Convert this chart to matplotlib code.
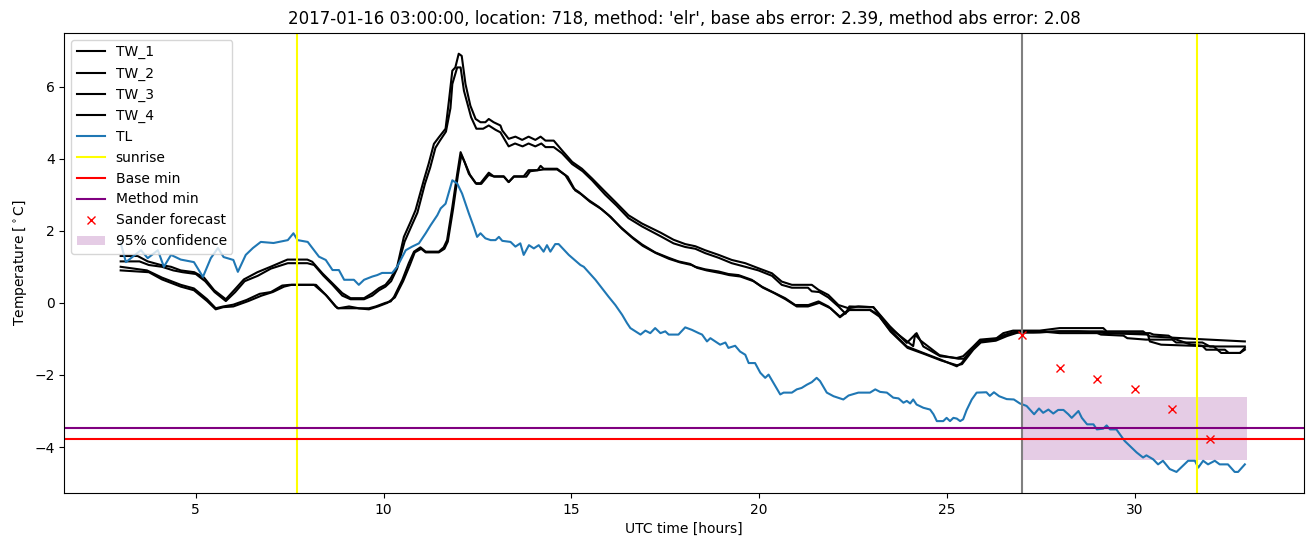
import matplotlib.pyplot as plt

# ── Daten ─────────────────────────────────────────────────────
tw1_t = [3.0, 3.45, 3.72, 4.07, 4.34, 4.6, 4.96, 5.22, 5.49, 5.8, 6.02, 6.28, 6.64, 6.99, 7.44,
         7.97, 8.1, 8.37, 8.64, 8.9, 9.12, 9.48, 9.7, 9.88, 10.05, 10.19, 10.36, 10.54, 10.72,
         10.85, 11.07, 11.2, 11.34, 11.47, 11.65, 11.74, 11.83, 11.91, 12.0, 12.08, 12.18, 12.31,
         12.45, 12.58, 12.71, 12.8, 12.93, 13.11, 13.16, 13.33, 13.51, 13.69, 13.86, 14.04, 14.18,
         14.31, 14.53, 14.75, 15.02, 15.28, 15.55, 15.9, 16.17, 16.52, 16.88, 17.37, 17.72, 18.03,
         18.3, 18.56, 18.92, 19.27, 19.63, 19.98, 20.34, 20.6, 20.87, 21.4, 21.58, 21.84, 22.11,
         22.38, 22.64, 23.04, 23.48, 23.93, 24.19, 24.37, 24.82, 25.26, 25.43, 25.7, 25.88, 26.32,
         26.5, 26.76, 27.47, 28.0, 29.16, 29.25, 30.22, 30.4, 31.6, 32.93]
tw1_v = [1.3, 1.3, 1.15, 1.05, 1.0, 0.9, 0.85, 0.7, 0.35, 0.1, 0.35, 0.65, 0.85, 1.0, 1.2,
         1.2, 1.14, 0.82, 0.54, 0.27, 0.13, 0.13, 0.27, 0.41, 0.5, 0.68, 1.0, 1.83, 2.25,
         2.57, 3.4, 3.86, 4.41, 4.59, 4.83, 5.61, 6.44, 6.53, 6.91, 6.85, 6.07, 5.47,
         5.1, 5.01, 5.01, 5.1, 5.01, 4.92, 4.78, 4.55, 4.61, 4.52, 4.61, 4.52, 4.61,
         4.5, 4.5, 4.23, 3.91, 3.72, 3.45, 3.08, 2.8, 2.43, 2.2, 1.95, 1.75, 1.63,
         1.57, 1.46, 1.33, 1.19, 1.1, 0.96, 0.82, 0.59, 0.5, 0.5, 0.36, 0.22, -0.06,
         -0.15, -0.1, -0.12, -0.65, -1.11, -0.84, -1.21, -1.48, -1.53, -1.48, -1.21, -1.02, -0.98,
         -0.84, -0.77, -0.77, -0.7, -0.7, -0.79, -0.79, -0.93, -1.0, -1.07]

tw2_t = [3.0, 3.5, 3.75, 4.1, 4.4, 4.65, 5.0, 5.25, 5.5, 5.8, 6.05, 6.3, 6.65, 7.0, 7.45,
         7.97, 8.15, 8.4, 8.64, 8.9, 9.12, 9.48, 9.7, 9.88, 10.05, 10.2, 10.36, 10.56, 10.75,
         10.9, 11.1, 11.24, 11.38, 11.5, 11.66, 11.78, 11.83, 11.96, 12.05, 12.14, 12.33, 12.47,
         12.65, 12.8, 12.98, 13.11, 13.33, 13.5, 13.7, 13.86, 14.04, 14.2, 14.31, 14.53, 14.75,
         15.02, 15.3, 15.55, 15.9, 16.2, 16.52, 16.88, 17.37, 17.72, 18.03, 18.3, 18.56, 18.92,
         19.27, 19.63, 19.98, 20.34, 20.6, 20.87, 21.3, 21.4, 21.6, 21.84, 22.11, 22.3, 22.4,
         23.04, 23.48, 24.1, 24.15, 24.3, 24.8, 25.3, 25.45, 25.7, 25.9, 26.3, 26.5, 26.76,
         27.3, 28.0, 29.16, 29.3, 30.4, 30.5, 30.9, 31.0, 31.5, 31.8, 31.9, 32.4, 32.5,
         32.8, 32.93]
tw2_v = [1.15, 1.15, 1.05, 1.0, 0.9, 0.85, 0.8, 0.6, 0.3, 0.05, 0.3, 0.6, 0.75, 0.95, 1.1,
         1.1, 1.05, 0.75, 0.5, 0.2, 0.1, 0.1, 0.2, 0.35, 0.45, 0.6, 0.95, 1.7, 2.15,
         2.5, 3.3, 3.75, 4.3, 4.5, 4.75, 5.4, 6.07, 6.53, 6.53, 5.88, 5.15, 4.83,
         4.83, 4.92, 4.8, 4.73, 4.34, 4.42, 4.34, 4.42, 4.34, 4.42, 4.32, 4.32, 4.15,
         3.85, 3.65, 3.4, 3.0, 2.7, 2.35, 2.12, 1.85, 1.65, 1.55, 1.5, 1.38, 1.25,
         1.1, 1.0, 0.9, 0.75, 0.5, 0.42, 0.42, 0.32, 0.3, 0.15, -0.1, -0.3, -0.1,
         -0.12, -0.7, -1.2, -0.88, -1.05, -1.45, -1.55, -1.55, -1.25, -1.05, -1.0, -0.9, -0.82,
         -0.82, -0.79, -0.79, -0.84, -0.84, -0.88, -0.91, -0.98, -1.16, -1.19, -1.3, -1.3, -1.39,
         -1.39, -1.25]

tw3_t = [3.0, 3.7, 4.1, 4.6, 4.95, 5.3, 5.53, 5.73, 6.0, 6.35, 6.7, 7.0, 7.3, 7.5, 8.15,
         8.46, 8.72, 8.8, 9.08, 9.34, 9.61, 9.79, 10.05, 10.19, 10.28, 10.5, 10.67, 10.81, 10.98,
         11.12, 11.47, 11.6, 11.69, 11.83, 11.96, 12.05, 12.14, 12.27, 12.45, 12.58, 12.8, 12.93,
         13.2, 13.33, 13.47, 13.73, 13.86, 14.1, 14.18, 14.26, 14.62, 14.84, 15.06, 15.19, 15.46,
         15.73, 15.99, 16.3, 16.61, 16.88, 17.23, 17.59, 17.85, 18.16, 18.3, 18.56, 18.92, 19.18,
         19.45, 19.8, 20.07, 20.34, 20.69, 20.96, 21.31, 21.58, 21.84, 22.15, 22.38, 22.95, 23.17,
         23.48, 23.93, 24.37, 24.82, 25.26, 25.39, 25.7, 25.88, 26.32, 26.59, 26.85, 27.47, 28.0,
         29.0, 29.1, 29.7, 29.8, 30.3, 31.0, 31.1, 31.8, 32.0, 32.93]
tw3_v = [1.0, 0.9, 0.7, 0.5, 0.4, 0.1, -0.15, -0.1, -0.05, 0.08, 0.25, 0.3, 0.48, 0.5, 0.5,
         0.22, -0.1, -0.15, -0.1, -0.15, -0.15, -0.1, 0.0, 0.04, 0.17, 0.64, 1.1, 1.42, 1.54,
         1.42, 1.42, 1.54, 1.74, 2.66, 3.58, 4.18, 3.95, 3.58, 3.32, 3.32, 3.61, 3.51,
         3.51, 3.35, 3.51, 3.51, 3.68, 3.68, 3.8, 3.72, 3.72, 3.54, 3.17, 3.08, 2.85,
         2.66, 2.43, 2.11, 1.83, 1.62, 1.4, 1.25, 1.15, 1.08, 1.0, 0.93, 0.87, 0.8,
         0.77, 0.64, 0.45, 0.31, 0.13, -0.06, -0.06, 0.04, -0.1, -0.38, -0.19, -0.19, -0.33,
         -0.75, -1.21, -1.39, -1.57, -1.76, -1.67, -1.25, -1.07, -1.02, -0.88, -0.79, -0.79, -0.84,
         -0.84, -0.88, -0.91, -0.98, -1.02, -1.02, -1.1, -1.1, -1.21, -1.21]

tw4_t = [3.0, 3.75, 4.1, 4.6, 4.95, 5.3, 5.53, 5.73, 6.0, 6.4, 6.75, 7.05, 7.35, 7.55, 8.2,
         8.5, 8.77, 9.3, 9.61, 9.85, 10.1, 10.3, 10.52, 10.7, 10.83, 11.0, 11.12, 11.47, 11.62,
         11.71, 11.85, 11.98, 12.07, 12.16, 12.3, 12.47, 12.6, 12.8, 12.95, 13.2, 13.33, 13.47,
         13.8, 13.9, 14.26, 14.62, 14.9, 15.1, 15.25, 15.5, 15.8, 16.05, 16.35, 16.65, 16.9,
         17.25, 17.6, 17.9, 18.2, 18.35, 18.6, 19.0, 19.2, 19.5, 19.85, 20.1, 20.4, 20.7,
         21.0, 21.3, 21.6, 21.9, 22.15, 22.4, 22.95, 23.2, 23.5, 23.95, 24.4, 24.85, 25.26,
         25.4, 25.7, 25.9, 26.3, 26.6, 26.9, 27.47, 28.0, 28.5, 29.25, 30.35, 30.4, 30.7,
         32.1, 32.3, 32.8, 32.93]
tw4_v = [0.9, 0.85, 0.65, 0.45, 0.35, 0.05, -0.18, -0.12, -0.1, 0.05, 0.2, 0.3, 0.45, 0.5, 0.5,
         0.18, -0.15, -0.15, -0.18, -0.1, 0.0, 0.15, 0.6, 1.05, 1.4, 1.5, 1.4, 1.4, 1.5,
         1.7, 2.6, 3.55, 4.1, 3.9, 3.55, 3.3, 3.3, 3.55, 3.5, 3.5, 3.35, 3.5,
         3.5, 3.65, 3.7, 3.7, 3.5, 3.12, 3.02, 2.8, 2.6, 2.38, 2.05, 1.78, 1.58,
         1.38, 1.22, 1.12, 1.05, 0.97, 0.9, 0.82, 0.77, 0.73, 0.6, 0.42, 0.27, 0.1,
         -0.1, -0.1, 0.0, -0.15, -0.4, -0.2, -0.2, -0.38, -0.8, -1.25, -1.42, -1.6, -1.73,
         -1.7, -1.3, -1.1, -1.05, -0.92, -0.82, -0.82, -0.79, -0.79, -0.84, -0.88, -1.07, -1.16,
         -1.21, -1.39, -1.39, -1.3]

tl_t = [3.0, 3.14, 3.54, 3.72, 3.99, 4.15, 4.34, 4.6, 4.95, 5.19, 5.4, 5.59, 5.74, 6.0, 6.12,
        6.33, 6.52, 6.73, 7.07, 7.45, 7.6, 7.71, 7.98, 8.28, 8.46, 8.64, 8.81, 8.95, 9.21,
        9.34, 9.48, 9.7, 9.83, 9.96, 10.23, 10.36, 10.59, 10.76, 10.94, 11.12, 11.25, 11.43,
        11.52, 11.65, 11.83, 11.96, 12.09, 12.27, 12.4, 12.49, 12.58, 12.71, 12.85, 12.98, 13.07,
        13.16, 13.38, 13.51, 13.64, 13.73, 13.87, 14.0, 14.13, 14.26, 14.35, 14.44, 14.57, 14.66,
        14.93, 15.24, 15.33, 15.64, 15.99, 16.17, 16.35, 16.48, 16.57, 16.84, 16.97, 17.1, 17.23,
        17.37, 17.5, 17.59, 17.85, 18.03, 18.21, 18.39, 18.48, 18.61, 18.7, 18.83, 18.96, 19.1,
        19.18, 19.36, 19.49, 19.63, 19.72, 19.89, 20.03, 20.16, 20.25, 20.38, 20.56, 20.65, 20.87,
        21.0, 21.13, 21.27, 21.4, 21.53, 21.62, 21.8, 21.98, 22.24, 22.38, 22.64, 22.95, 23.09,
        23.22, 23.4, 23.57, 23.71, 23.84, 23.93, 24.02, 24.1, 24.19, 24.37, 24.55, 24.64, 24.73,
        24.9, 24.99, 25.08, 25.17, 25.26, 25.35, 25.43, 25.52, 25.66, 25.79, 26.05, 26.14, 26.25,
        26.39, 26.59, 26.78, 26.94, 27.12, 27.32, 27.45, 27.56, 27.7, 27.83, 27.96, 28.1, 28.23,
        28.32, 28.5, 28.59, 28.73, 28.9, 28.99, 29.16, 29.25, 29.34, 29.51, 29.73, 30.05, 30.22,
        30.31, 30.49, 30.62, 30.75, 30.93, 31.11, 31.28, 31.42, 31.6, 31.69, 31.82, 31.95, 32.13,
        32.26, 32.48, 32.66, 32.75, 32.93]
tl_v = [1.66, 1.13, 1.46, 1.24, 1.46, 1.0, 1.33, 1.2, 1.13, 0.72, 1.24, 1.52, 1.27, 1.19, 0.86,
        1.33, 1.52, 1.69, 1.66, 1.74, 1.93, 1.74, 1.69, 1.28, 1.19, 0.91, 0.91, 0.64, 0.64,
        0.5, 0.64, 0.73, 0.77, 0.83, 0.83, 1.0, 1.46, 1.56, 1.65, 1.93, 2.15, 2.43,
        2.62, 2.75, 3.4, 3.31, 3.03, 2.48, 2.11, 1.83, 1.93, 1.79, 1.74, 1.74, 1.83,
        1.72, 1.69, 1.56, 1.65, 1.33, 1.6, 1.51, 1.6, 1.42, 1.6, 1.42, 1.63, 1.63,
        1.33, 1.05, 1.0, 0.64, 0.17, -0.06, -0.33, -0.56, -0.7, -0.88, -0.77, -0.84, -0.7,
        -0.84, -0.79, -0.88, -0.88, -0.68, -0.75, -0.84, -0.88, -1.07, -0.98, -1.07, -1.16, -1.1,
        -1.25, -1.19, -1.35, -1.44, -1.67, -1.67, -1.94, -2.08, -1.99, -2.22, -2.54, -2.49, -2.49,
        -2.4, -2.36, -2.27, -2.2, -2.08, -2.17, -2.49, -2.59, -2.68, -2.57, -2.49, -2.49, -2.4,
        -2.47, -2.49, -2.63, -2.65, -2.77, -2.72, -2.79, -2.68, -2.82, -2.91, -2.96, -3.09, -3.28,
        -3.28, -3.19, -3.28, -3.19, -3.21, -3.28, -3.23, -2.98, -2.68, -2.49, -2.48, -2.58, -2.48,
        -2.59, -2.67, -2.68, -2.79, -2.86, -3.09, -2.93, -3.05, -2.96, -3.07, -2.97, -2.97, -3.09,
        -3.19, -3.0, -3.19, -3.37, -3.37, -3.51, -3.49, -3.4, -3.51, -3.51, -3.83, -4.15, -4.29,
        -4.23, -4.34, -4.48, -4.38, -4.61, -4.69, -4.52, -4.38, -4.38, -4.57, -4.38, -4.48, -4.38,
        -4.48, -4.48, -4.69, -4.69, -4.48]

sunrise = [7.7, 31.65]
forecast_start = 27.0
base_min = -3.78
method_min = -3.47
sander_t = [27, 28, 29, 30, 31, 32]
sander_v = [-0.88, -1.80, -2.11, -2.40, -2.94, -3.79]
conf_t = [27, 33]
conf_lo = -4.36
conf_hi = -2.60

title = ("2017-01-16 03:00:00, location: 718, method: 'elr', "
         "base abs error: 2.39, method abs error: 2.08")

# ── Plot ──────────────────────────────────────────────────────
fig, ax = plt.subplots(figsize=(13.13, 5.47), dpi=100)
fig.subplots_adjust(left=0.049, right=0.993, top=0.94, bottom=0.099)

ax.plot(tw1_t, tw1_v, color='black', label='TW_1')
ax.plot(tw2_t, tw2_v, color='black', label='TW_2')
ax.plot(tw3_t, tw3_v, color='black', label='TW_3')
ax.plot(tw4_t, tw4_v, color='black', label='TW_4')
ax.plot(tl_t, tl_v, color='C0', label='TL')

ax.axvline(sunrise[0], color='yellow', label='sunrise')
ax.axvline(sunrise[1], color='yellow')
ax.axvline(forecast_start, color='gray')
ax.axhline(base_min, color='red', label='Base min')
ax.axhline(method_min, color='purple', label='Method min')
ax.plot(sander_t, sander_v, 'x', color='red', label='Sander forecast')
ax.fill_between(conf_t, conf_lo, conf_hi, color='purple', alpha=0.2,
                linewidth=0, label='95% confidence')

ax.set_xlabel('UTC time [hours]')
ax.set_ylabel(r'Temperature [$^\circ$C]')
ax.set_title(title)
ax.legend(loc='upper left')

plt.savefig('out.png', dpi=100)
